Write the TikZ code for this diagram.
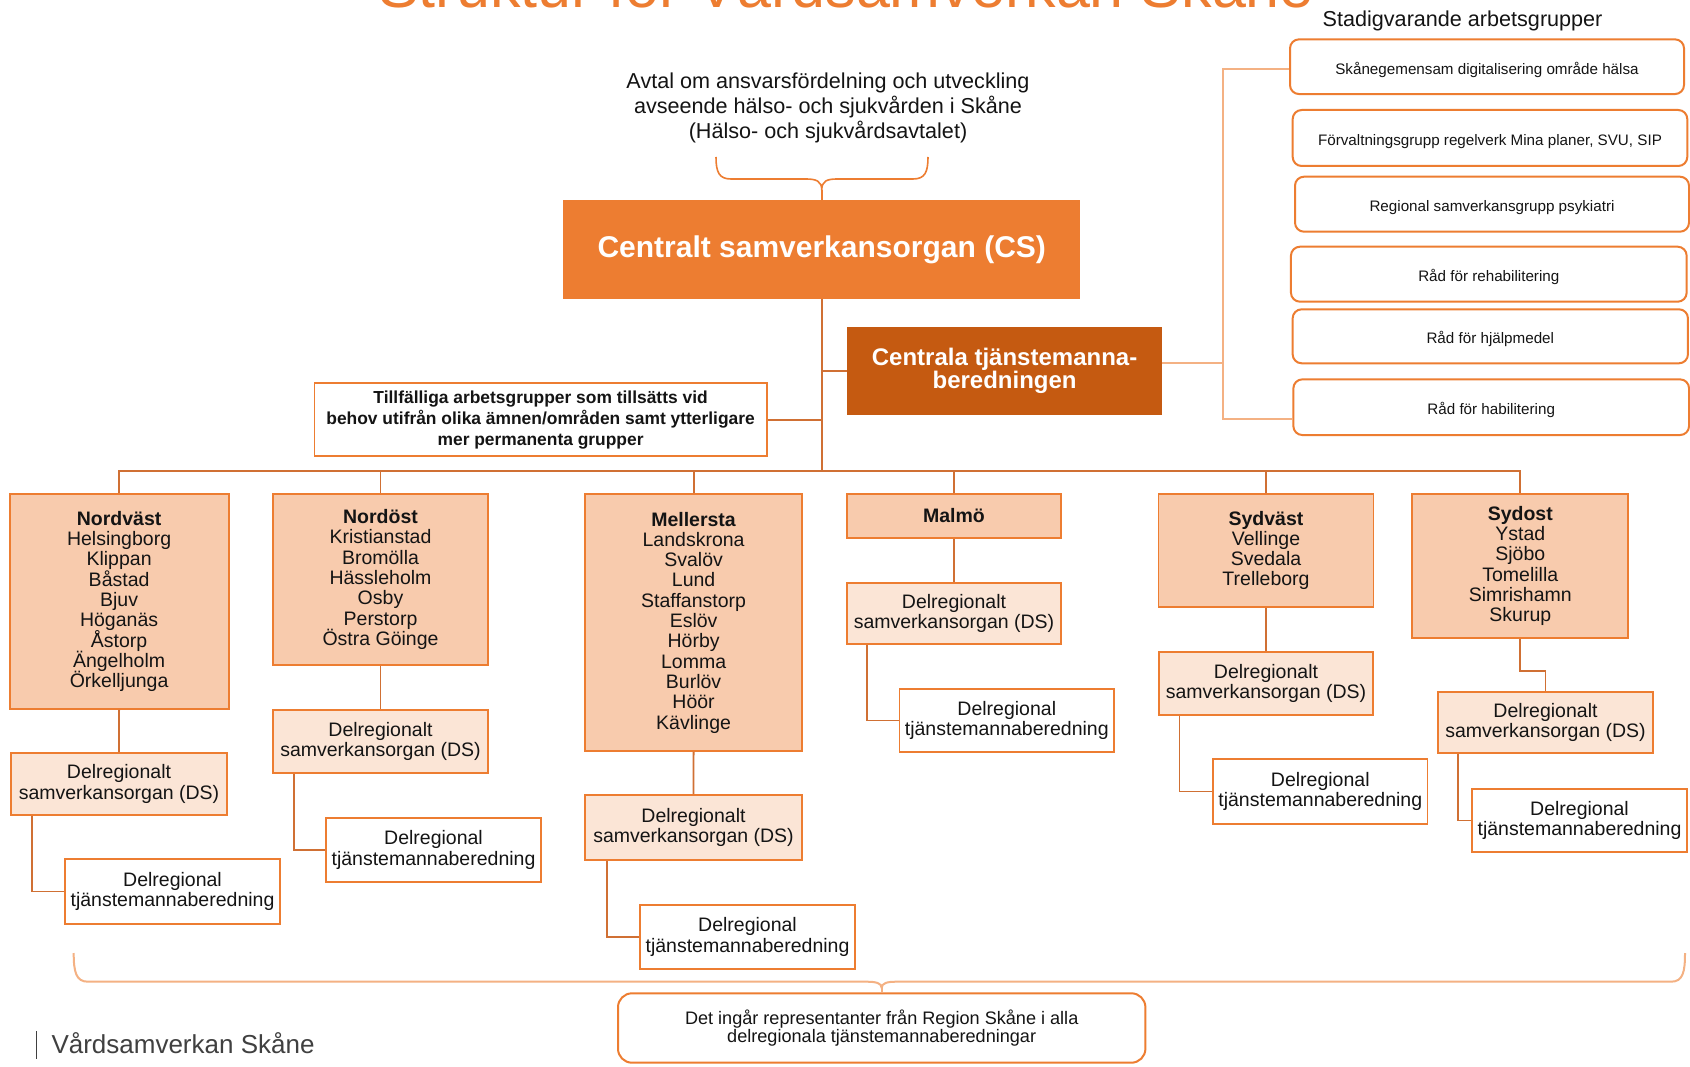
\documentclass[tikz,border=0pt]{standalone}
\usepackage{fontspec}
\setmainfont{Liberation Sans}
\definecolor{orB}{RGB}{237,125,49}
\definecolor{dorB}{RGB}{197,90,17}
\definecolor{peach}{RGB}{248,203,173}
\definecolor{lpeach}{RGB}{251,229,214}
\definecolor{lineC}{RGB}{208,112,52}
\definecolor{lbr}{RGB}{244,177,131}
\definecolor{txt}{RGB}{20,20,20}
\definecolor{foot}{RGB}{64,64,64}
\newcommand\mytight{\lineskiplimit=-50pt\relax}
\begin{document}
\begin{tikzpicture}[x=1pt,y=-1pt,
  base/.style={inner sep=0pt, align=center, text=txt, line width=1.8pt},
  city/.style={font=\fontsize{19.5}{20.3}\selectfont\mytight},
  reg/.style={base, city, draw=orB, fill=peach},
  dsb/.style={base, city, draw=orB, fill=lpeach},
  dtb/.style={base, city, draw=orB, fill=white},
  rbox/.style={base, draw=orB, fill=white, rounded corners=9pt, line width=2pt, font=\fontsize{15.2}{18}\selectfont, text height=18pt, text depth=3.2pt},
  conn/.style={draw=lineC, line width=1.8pt},
  lconn/.style={draw=lbr, line width=2pt},
  brace/.style={draw=orB, line width=1.6pt, line join=round},
]
\fill[white] (0,0) rectangle (1690,1067);
\useasboundingbox (0,0) rectangle (1690,1067);

% title and headings
\node[anchor=base, inner sep=0pt, text=orB, font=\fontsize{61}{70}\selectfont] (title) at (846,7.5) {Struktur för Vårdsamverkan Skåne};
\node[anchor=base west, inner sep=0pt, text=txt, font=\fontsize{21.6}{25}\selectfont] (stad) at (1322.5,27) {Stadigvarande arbetsgrupper};
\node[inner sep=0pt, align=center, text=txt, font=\fontsize{21.6}{25}\selectfont\mytight] (avtal) at (828,107.7) {Avtal om ansvarsfördelning och utveckling\\avseende hälso- och sjukvården i Skåne\\(Hälso- och sjukvårdsavtalet)};

% central boxes
\node[base, fill=orB, draw=orB, text=white, font=\bfseries\fontsize{30}{36}\selectfont, minimum width=515.5pt, minimum height=97.6pt] (cs) at (821.75,249.5) {Centralt samverkansorgan (CS)};
\node[base, fill=dorB, draw=dorB, text=white, font=\bfseries\fontsize{24}{23.7}\selectfont\mytight, minimum width=312.8pt, minimum height=86.3pt] (ctb) at (1004.6,370.9) {Centrala tjänstemanna-\\beredningen};
\node[base, fill=white, draw=orB, font=\bfseries\fontsize{17.4}{21}\selectfont\mytight, minimum width=452.3pt, minimum height=72.7pt] (tmp) at (540.6,419.7) {Tillfälliga arbetsgrupper som tillsätts vid\\behov utifrån olika ämnen/områden samt ytterligare\\mer permanenta grupper};

% permanent working groups
\node[rbox, minimum width=394pt, minimum height=54.7pt] (r1) at (1487,66.7) {Skånegemensam digitalisering område hälsa};
\node[rbox, minimum width=394.6pt, minimum height=56pt] (r2) at (1490,138) {Förvaltningsgrupp regelverk Mina planer, SVU, SIP};
\node[rbox, minimum width=394pt, minimum height=55pt] (r3) at (1492,204.2) {Regional samverkansgrupp psykiatri};
\node[rbox, minimum width=395.7pt, minimum height=55pt] (r4) at (1488.8,274.2) {Råd för rehabilitering};
\node[rbox, minimum width=395.3pt, minimum height=54pt] (r5) at (1490.3,336.3) {Råd för hjälpmedel};
\node[rbox, minimum width=395.7pt, minimum height=55.7pt] (r6) at (1491.2,407.2) {Råd för habilitering};

% regions
\node[reg, minimum width=219pt, minimum height=215pt] (nv) at (119.1,601.5) {\textbf{Nordväst}\\Helsingborg\\Klippan\\Båstad\\Bjuv\\Höganäs\\Åstorp\\Ängelholm\\Örkelljunga};
\node[reg, minimum width=214.7pt, minimum height=171pt] (no) at (380.5,579.5) {\textbf{Nordöst}\\Kristianstad\\Bromölla\\Hässleholm\\Osby\\Perstorp\\Östra Göinge};
\node[reg, minimum width=216.6pt, minimum height=257pt] (me) at (693.6,622.5) {\textbf{Mellersta}\\Landskrona\\Svalöv\\Lund\\Staffanstorp\\Eslöv\\Hörby\\Lomma\\Burlöv\\Höör\\Kävlinge};
\node[reg, minimum width=214.7pt, minimum height=44pt] (ma) at (954,516) {\textbf{Malmö}};
\node[reg, minimum width=215pt, minimum height=113pt] (sv) at (1266,550.5) {\textbf{Sydväst}\\Vellinge\\Svedala\\Trelleborg};
\node[reg, minimum width=216pt, minimum height=144pt] (so) at (1520.3,566) {\textbf{Sydost}\\Ystad\\Sjöbo\\Tomelilla\\Simrishamn\\Skurup};

% DS boxes
\node[dsb, minimum width=216pt, minimum height=62pt] (nvds) at (119,784) {Delregionalt\\samverkansorgan (DS)};
\node[dsb, minimum width=215pt, minimum height=63pt] (nods) at (380.5,741.5) {Delregionalt\\samverkansorgan (DS)};
\node[dsb, minimum width=217pt, minimum height=65pt] (meds) at (693.5,827.5) {Delregionalt\\samverkansorgan (DS)};
\node[dsb, minimum width=214pt, minimum height=61pt] (mads) at (954,613.5) {Delregionalt\\samverkansorgan (DS)};
\node[dsb, minimum width=214pt, minimum height=63pt] (svds) at (1266,683.5) {Delregionalt\\samverkansorgan (DS)};
\node[dsb, minimum width=215pt, minimum height=61pt] (sods) at (1545.5,722.5) {Delregionalt\\samverkansorgan (DS)};

% DT boxes
\node[dtb, minimum width=215pt, minimum height=65pt] (nvdt) at (172.5,891.5) {Delregional\\tjänstemannaberedning};
\node[dtb, minimum width=215pt, minimum height=64pt] (nodt) at (433.5,850) {Delregional\\tjänstemannaberedning};
\node[dtb, minimum width=215pt, minimum height=64pt] (medt) at (747.5,937) {Delregional\\tjänstemannaberedning};
\node[dtb, minimum width=214.5pt, minimum height=63pt] (madt) at (1006.8,720.5) {Delregional\\tjänstemannaberedning};
\node[dtb, minimum width=214.5pt, minimum height=65pt] (svdt) at (1320.3,791.5) {Delregional\\tjänstemannaberedning};
\node[dtb, minimum width=215pt, minimum height=63pt] (sodt) at (1579.5,820.5) {Delregional\\tjänstemannaberedning};

% bottom note
\node[base, draw=orB, fill=white, line width=2pt, rounded corners=14pt, font=\fontsize{18.1}{18.5}\selectfont\mytight, minimum width=527.4pt, minimum height=69.4pt] (note) at (881.7,1028) {Det ingår representanter från Region Skåne i alla\\delregionala tjänstemannaberedningar};

% footer
\node[anchor=west, inner sep=0pt, text=foot, font=\fontsize{26}{30}\selectfont] (foot) at (51.3,1043.3) {Vårdsamverkan Skåne};
\coordinate (fb1) at (36.7,1031);
\coordinate (fb2) at (36.7,1059);
\draw[draw=foot, line width=1.4pt] (fb1) -- (fb2);

% tree connectors
\coordinate (bus) at (821.75,471);
\draw[conn] (cs.south) -- (bus);
\draw[conn] (nv.north) -- (nv.north |- bus) -- (so.north |- bus) -- (so.north);
\draw[conn] (no.north) -- (no.north |- bus);
\draw[conn] (me.north) -- (me.north |- bus);
\draw[conn] (ma.north) -- (ma.north |- bus);
\draw[conn] (sv.north) -- (sv.north |- bus);
\draw[conn] (ctb.west) -- (ctb.west -| bus);
\draw[conn] (tmp.east) -- (tmp.east -| bus);

\draw[conn] (nv.south) -- (nvds.north);
\draw[conn] (no.south) -- (nods.north);
\draw[conn] (me.south) -- (meds.north);
\draw[conn] (ma.south) -- (mads.north);
\draw[conn] (sv.south) -- (svds.north);
\draw[conn] (so.south) -- ++(0,32) -| (sods.north);

\draw[conn] ([xshift=21.5pt]nvds.south west) |- (nvdt.west);
\draw[conn] ([xshift=21.5pt]nods.south west) |- (nodt.west);
\draw[conn] ([xshift=23pt]meds.south west) |- (medt.west);
\draw[conn] ([xshift=21pt]mads.south west) |- (madt.west);
\draw[conn] ([xshift=21.3pt]svds.south west) |- (svdt.west);
\draw[conn] ([xshift=21pt]sods.south west) |- (sodt.west);

% right bracket
\coordinate (bx) at (1222.7,0);
\coordinate (b1) at ([yshift=-2.3pt]r1.west);
\coordinate (b6) at ([yshift=-12pt]r6.west);
\coordinate (bc) at ([yshift=7.6pt]ctb.east);
\draw[lconn] (b1) -- (b1 -| bx) -- (b6 -| bx) -- (b6);
\draw[lconn] (bc) -- (bc -| bx);

% top brace
\coordinate (tt) at (821.75,190);
\draw[brace] (716,157) .. controls (716,172) and (719,179) .. (731,179) -- (806,179) .. controls (816,179) and (821.75,181) .. (tt) .. controls (821.75,181) and (827,179) .. (837,179) -- (913,179) .. controls (925,179) and (928,172) .. (928,157);
\draw[brace] (tt) -- (cs.north);

% bottom brace
\coordinate (bt) at (881.7,988);
\draw[lconn, line join=round] (73.7,953) .. controls (73.7,972) and (76,981.7) .. (88,981.7) -- (866,981.7) .. controls (876,981.7) and (881.7,983) .. (bt) .. controls (881.7,983) and (887,981.7) .. (897,981.7) -- (1671,981.7) .. controls (1683,981.7) and (1685,972) .. (1685,953);
\draw[lconn] (bt) -- (note.north);
\end{tikzpicture}
\end{document}
